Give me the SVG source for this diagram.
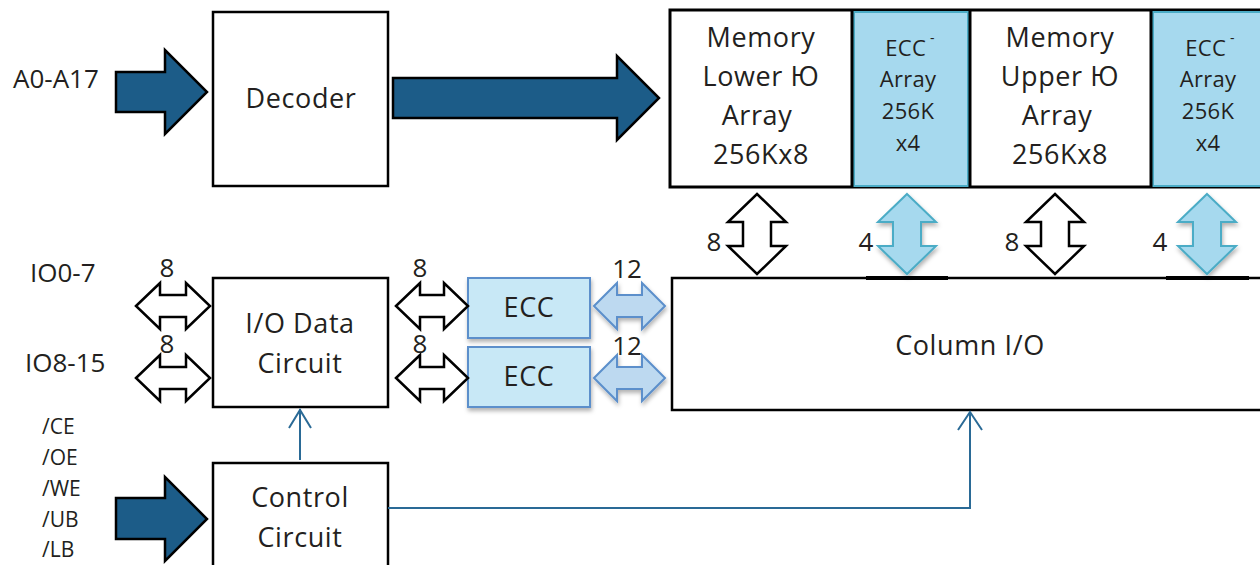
<svg xmlns="http://www.w3.org/2000/svg" width="1260" height="565" viewBox="0 0 1260 565">
<style>
text{font-family:"Open Sans","Liberation Sans",sans-serif;fill:#231f20;}
.big{font-size:27px;letter-spacing:0.6px;text-anchor:middle;}
.lbl{font-size:26px;}
.sm{font-size:22px;letter-spacing:0.3px;text-anchor:middle;}
.sig{font-size:21px;}
.box{fill:#fff;stroke:#000;stroke-width:2.5;}
.fat{fill:#1c5c88;stroke:#000;stroke-width:2.5;stroke-linejoin:miter;}
.dbl{fill:#fff;stroke:#000;stroke-width:2.5;}
.bdbl{fill:#a6d9ee;stroke:#4bacc6;stroke-width:2;}
.hdbl{fill:#bdd9f0;stroke:#5b8fcb;stroke-width:2;}
.ecc{fill:#c8e8f6;stroke:#5b8fcb;stroke-width:2;}
.eca{fill:#a6d9ee;stroke:#4bacc6;stroke-width:2;}
.wire{fill:none;stroke:#2a6a96;stroke-width:2;}
</style>
<defs>
<filter id="sh" x="-20%" y="-20%" width="140%" height="150%">
<feDropShadow dx="1" dy="3" stdDeviation="2" flood-color="#000" flood-opacity="0.3"/>
</filter>
</defs>

<g id="addr-in">
<polygon class="fat" points="116,72 165,72 165,50 207,92 165,134 165,112 116,112"/>
<text class="lbl" x="13" y="88">A0-A17</text>
</g>

<g id="decoder">
<rect class="box" x="213" y="12" width="175" height="174"/>
<text class="big" x="301" y="108">Decoder</text>
</g>

<g id="memory">
<rect x="670" y="10" width="600" height="177" fill="#fff" stroke="#000" stroke-width="3"/>
<g id="mem-lower">
<text class="big" x="761" y="47">Memory</text>
<text class="big" x="761" y="86">Lower Ю</text>
<text class="big" x="757" y="125">Array</text>
<text class="big" x="761" y="164">256Kx8</text>
</g>
<g id="ecc-array-1">
<rect class="eca" x="854" y="12" width="114" height="174"/>
<line x1="852" y1="10" x2="852" y2="187" stroke="#000" stroke-width="3"/>
<line x1="970" y1="10" x2="970" y2="187" stroke="#000" stroke-width="3"/>
<text class="sm" x="910" y="56">ECC<tspan font-size="14" dy="-13"> -</tspan></text>
<text class="sm" x="908" y="87">Array</text>
<text class="sm" x="908" y="119">256K</text>
<text class="sm" x="908" y="151">x4</text>
</g>
<g id="mem-upper">
<text class="big" x="1060" y="47">Memory</text>
<text class="big" x="1060" y="86">Upper Ю</text>
<text class="big" x="1057" y="125">Array</text>
<text class="big" x="1060" y="164">256Kx8</text>
</g>
<g id="ecc-array-2">
<rect class="eca" x="1153" y="12" width="110" height="174"/>
<line x1="1151" y1="10" x2="1151" y2="187" stroke="#000" stroke-width="3"/>
<text class="sm" x="1210" y="56">ECC<tspan font-size="14" dy="-13"> -</tspan></text>
<text class="sm" x="1208" y="87">Array</text>
<text class="sm" x="1208" y="119">256K</text>
<text class="sm" x="1208" y="151">x4</text>
</g>
</g>

<g id="io-data">
<rect class="box" x="213" y="278" width="175" height="129"/>
<text class="big" x="300" y="333">I/O Data</text>
<text class="big" x="300" y="373">Circuit</text>
</g>

<g id="ecc-1">
<rect class="ecc" x="468" y="278" width="122" height="60" filter="url(#sh)"/>
<text class="big" x="529" y="317">ECC</text>
</g>
<g id="ecc-2">
<rect class="ecc" x="468" y="347" width="122" height="60" filter="url(#sh)"/>
<text class="big" x="529" y="386">ECC</text>
</g>

<g id="column-io">
<rect class="box" x="672" y="278" width="600" height="132"/>
<line x1="866" y1="278" x2="948" y2="278" stroke="#000" stroke-width="4"/>
<line x1="1166" y1="278" x2="1249" y2="278" stroke="#000" stroke-width="4"/>
<text class="big" x="970" y="355">Column I/O</text>
</g>

<g id="control">
<rect class="box" x="213" y="463" width="175" height="120"/>
<text class="big" x="300" y="507">Control</text>
<text class="big" x="300" y="547">Circuit</text>
</g>

<g id="ctrl-in">
<polygon class="fat" points="116,498 165,498 165,477 207,519 165,561 165,539 116,539"/>
<text class="sig" x="42" y="434">/CE</text>
<text class="sig" x="42" y="465">/OE</text>
<text class="sig" x="42" y="496">/WE</text>
<text class="sig" x="42" y="527">/UB</text>
<text class="sig" x="42" y="557">/LB</text>
</g>

<g id="connectors">
<polygon class="fat" points="393,78 617,78 617,56 659,98 617,140 617,118 393,118"/>

<polygon class="dbl" points="136,306 160,283 160,295 186,295 186,283 210,306 186,329 186,317 160,317 160,329"/>
<polygon class="dbl" points="136,378 160,355 160,367 186,367 186,355 210,378 186,401 186,389 160,389 160,401"/>
<polygon class="dbl" points="396,306 420,283 420,295 444,295 444,283 468,306 444,329 444,317 420,317 420,329"/>
<polygon class="dbl" points="396,378 420,355 420,367 444,367 444,355 468,378 444,401 444,389 420,389 420,401"/>
<polygon class="hdbl" filter="url(#sh)" points="594,306 617,283 617,295 642,295 642,283 665,306 642,329 642,317 617,317 617,329"/>
<polygon class="hdbl" filter="url(#sh)" points="594,378 617,355 617,367 642,367 642,355 665,378 642,401 642,389 617,389 617,401"/>

<polygon class="dbl" points="757,194 786,222 771,222 771,246 786,246 757,274 728,246 743,246 743,222 728,222"/>
<polygon class="bdbl" filter="url(#sh)" points="907,194 936,222 921,222 921,246 936,246 907,274 878,246 893,246 893,222 878,222"/>
<polygon class="dbl" points="1055,194 1084,222 1069,222 1069,246 1084,246 1055,274 1026,246 1041,246 1041,222 1026,222"/>
<polygon class="bdbl" filter="url(#sh)" points="1207,194 1236,222 1221,222 1221,246 1236,246 1207,274 1178,246 1193,246 1193,222 1178,222"/>

<path class="wire" d="M300,460 V409 M289,428 L300,410 L311,428"/>
<path class="wire" d="M388,508 H970 V412 M958,430 L970,412 L982,430"/>

<text class="lbl" x="167" y="277" text-anchor="middle">8</text>
<text class="lbl" x="167" y="353" text-anchor="middle">8</text>
<text class="lbl" x="420" y="277" text-anchor="middle">8</text>
<text class="lbl" x="420" y="353" text-anchor="middle">8</text>
<text class="lbl" x="627" y="278" text-anchor="middle">12</text>
<text class="lbl" x="627" y="355" text-anchor="middle">12</text>
<text class="lbl" x="714" y="251" text-anchor="middle">8</text>
<text class="lbl" x="866" y="251" text-anchor="middle">4</text>
<text class="lbl" x="1012" y="251" text-anchor="middle">8</text>
<text class="lbl" x="1160" y="251" text-anchor="middle">4</text>
<text class="lbl" x="30" y="282">IO0-7</text>
<text class="lbl" x="25" y="372">IO8-15</text>
</g>
</svg>
